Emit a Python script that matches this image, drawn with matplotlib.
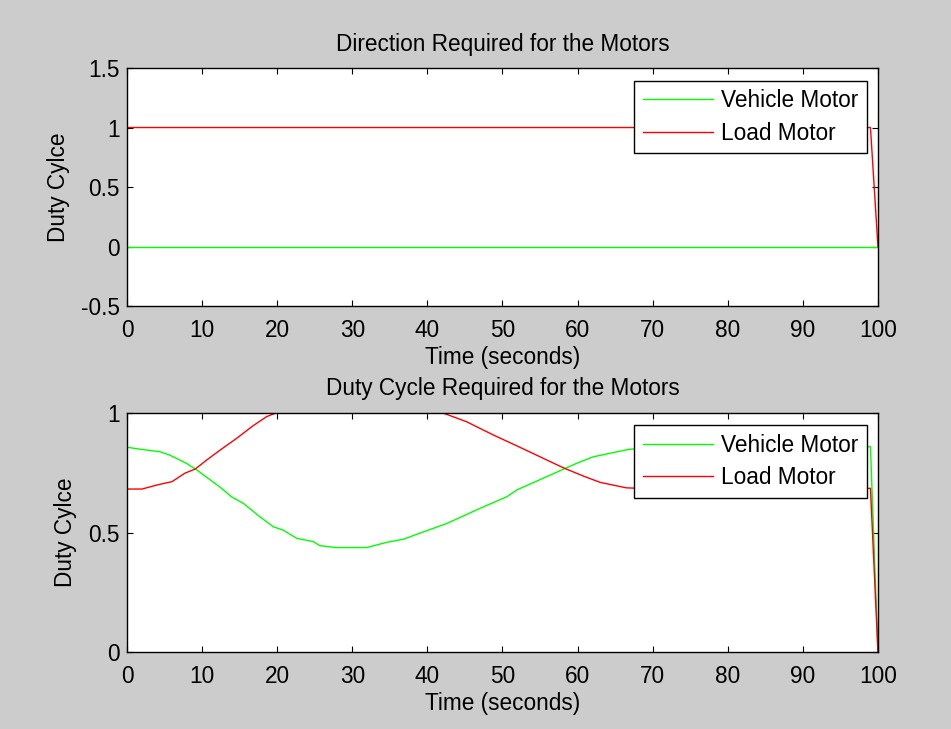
import matplotlib
matplotlib.use("Agg")
import matplotlib.pyplot as plt

plt.rcParams['font.family'] = ['Liberation Sans', 'DejaVu Sans']

# ---- data ----
dir_time = [0, 99, 100]
dir_vehicle = [0, 0, 0]
dir_load = [1, 1, 0]

veh_time = [0, 1.7, 4.4, 5.7, 7.9, 9.3, 11.1, 12.4, 13.9, 15.5, 17.7, 19.5, 20.8,
            22.6, 24.8, 25.7, 27.9, 31.9, 34.6, 36.8, 39.5, 42.6, 47.0, 50.6, 51.9,
            55.4, 59.9, 62.1, 66.8, 70, 75, 80, 85, 90, 95, 99, 100]
veh_duty = [0.857, 0.849, 0.838, 0.824, 0.79, 0.762, 0.72, 0.69, 0.65, 0.622, 0.566,
            0.524, 0.51, 0.476, 0.462, 0.445, 0.437, 0.437, 0.459, 0.472, 0.503, 0.538,
            0.601, 0.65, 0.678, 0.727, 0.79, 0.817, 0.848, 0.856, 0.862, 0.865, 0.866,
            0.864, 0.862, 0.859, 0.0]

load_time = [0, 2.0, 4.0, 6.0, 7.7, 9.1, 10.6, 12.4, 14.6, 16.8, 18.6, 19.8, 42.1,
             45.2, 48.8, 51.9, 55.0, 58.1, 60.8, 63.0, 66.5, 70, 80, 90, 99, 100]
load_duty = [0.682, 0.682, 0.699, 0.713, 0.748, 0.766, 0.803, 0.845, 0.894, 0.947,
             0.985, 1.0, 1.0, 0.964, 0.908, 0.863, 0.817, 0.771, 0.736, 0.71, 0.687,
             0.683, 0.682, 0.683, 0.685, 0.0]

x_ticks = [0, 10, 20, 30, 40, 50, 60, 70, 80, 90, 100]
top_yticks = [-0.5, 0, 0.5, 1, 1.5]
top_yticklabels = ['-0.5', '0', '0.5', '1', '1.5']
bot_yticks = [0, 0.5, 1]
bot_yticklabels = ['0', '0.5', '1']

FS = 16.3
fig = plt.figure(figsize=(9.51, 7.29), dpi=100, facecolor='#cccccc')

ax1 = fig.add_axes([0.1335, 0.5802, 0.7897, 0.3265])
ax2 = fig.add_axes([0.1335, 0.1056, 0.7897, 0.3278])


def style(ax, yticks, ylabels, ylim):
    ax.set_facecolor('white')
    ax.set_xlim(0, 100)
    ax.set_ylim(*ylim)
    ax.set_xticks(x_ticks)
    ax.set_xticklabels([str(v) for v in x_ticks])
    ax.set_yticks(yticks)
    ax.set_yticklabels(ylabels)
    ax.tick_params(direction='in', top=True, right=True, length=4, width=0.8,
                   labelsize=FS)
    ax.tick_params(axis='x', pad=9)
    ax.tick_params(axis='y', pad=5)
    for s in ax.spines.values():
        s.set_linewidth(1.0)
        s.set_color('black')
    ax.set_xlabel('Time (seconds)', fontsize=FS, labelpad=3)
    ax.set_ylabel('Duty Cylce', fontsize=FS, labelpad=8)


ax1.plot(dir_time, dir_vehicle, color='#00ff00', lw=1.0, label='Vehicle Motor')
ax1.plot(dir_time, dir_load, color='#ff0000', lw=1.0, label='Load Motor')
style(ax1, top_yticks, top_yticklabels, (-0.5, 1.5))
ax1.set_title('Direction Required for the Motors', fontsize=FS, pad=12)

ax2.plot(veh_time, veh_duty, color='#00ff00', lw=1.0, label='Vehicle Motor')
ax2.plot(load_time, load_duty, color='#ff0000', lw=1.0, label='Load Motor')
style(ax2, bot_yticks, bot_yticklabels, (0, 1))
ax2.set_title('Duty Cycle Required for the Motors', fontsize=FS, pad=13)

for ax, top in ((ax1, 0.9466), (ax2, 0.9498)):
    leg = ax.legend(loc='upper right', bbox_to_anchor=(0.9854, top), fontsize=FS,
                    frameon=True, fancybox=False, framealpha=1, edgecolor='black',
                    borderaxespad=0, handlelength=3.1, handletextpad=0.35,
                    labelspacing=0.42, borderpad=0.38)
    leg.get_frame().set_linewidth(1.0)

fig.savefig('out.png', dpi=100, facecolor=fig.get_facecolor())
